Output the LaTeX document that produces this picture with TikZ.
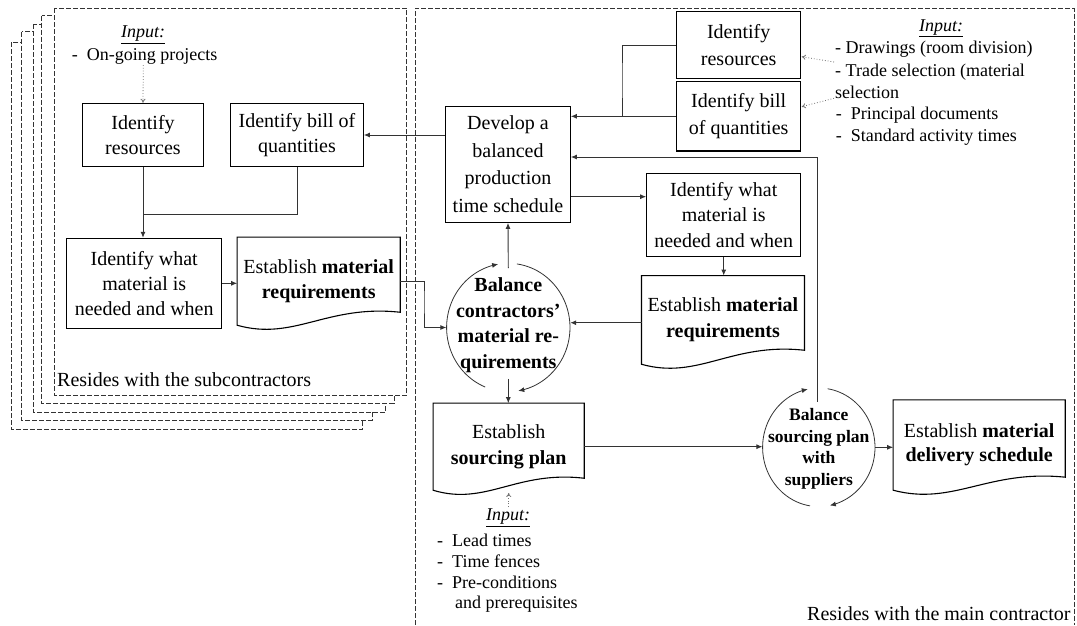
\documentclass[tikz,border=0pt]{standalone}
\usepackage{fontspec}
\setmainfont{Liberation Serif}
\usetikzlibrary{arrows.meta,calc,shapes.geometric}
\newcommand{\myMain}{\fontsize{20}{25}\selectfont}
\newcommand{\mySmall}{\fontsize{18}{22}\selectfont}
\newcommand{\myBal}{\fontsize{17.5}{21.5}\selectfont\bfseries}
\newcommand{\myInp}{\underline{\textit{Input:}}}
\newcommand{\docshape}[2]{\draw[boxline] (#1.south west) -- (#1.north west) -- (#1.north east) -- ($(#1.south east)+(0,-#2)$) .. controls ($(#1.south west)!0.55!(#1.south east)+(0,-#2-8)$) and ($(#1.south west)!0.35!(#1.south east)+(0,16)$) .. (#1.south west) -- cycle;}
\begin{document}
\begin{tikzpicture}[x=1pt,y=-1pt,
  boxline/.style={line width=1.1pt, black},
  box/.style={draw, line width=1.1pt, rectangle, inner sep=0pt, align=center, font=\myMain},
  docnode/.style={rectangle, inner sep=0pt, align=center, font=\myMain},
  ball/.style={ellipse, inner sep=0pt, draw=none},
  baltext/.style={inner sep=0pt, align=center},
  frame/.style={line width=0.8pt, black!80, dash pattern=on 5pt off 2pt},
  arr/.style={line width=0.9pt, black!80, -{Latex[length=6pt,width=5pt]}},
  plain/.style={line width=0.9pt, black!80},
  cyc/.style={line width=0.8pt, black!80, -{Latex[length=6pt,width=5pt]}},
  inarr/.style={dotted, line width=0.8pt, black!55, -{To[length=4pt,width=5pt]}},
  inp/.style={inner sep=0pt, anchor=west, font=\mySmall},
  lbl/.style={inner sep=0pt, anchor=west, font=\myMain}]
\useasboundingbox (0,0) rectangle (1077,625);
\fill[white] (0,0) rectangle (1077,625);

% stacked subcontractor frames
\draw[frame, fill=white] (11,42.3) rectangle (362.7,429.3);
\draw[frame, fill=white] (21.7,31.7) rectangle (372.7,420);
\draw[frame, fill=white] (33.3,24.3) rectangle (385.7,412.3);
\draw[frame, fill=white] (41.7,15.7) rectangle (394,403.3);
\draw[frame, fill=white] (54.3,8.3) rectangle (406.7,395.5);
% main contractor frame
\draw[frame] (415,625) -- (415,8.3) -- (1074,8.3) -- (1074,625);

\node[lbl] (subl) at (57,380) {Resides with the subcontractors};
\node[lbl] (mainl) at (807,614) {Resides with the main contractor};

% ---- subcontractor side
\node[inner sep=0pt, font=\mySmall] (sinp) at (143,35) {\myInp};
\node[inp] (sinp1) at (71.7,56.7) {-\ \ On-going projects};
\node[box, minimum width=120.6, minimum height=63.4] (sres) at (143,135) {Identify\\resources};
\node[box, minimum width=132.6, minimum height=63.4] (sbill) at (297,135) {Identify bill of\\quantities};
\node[box, minimum width=155, minimum height=90] (swhat) at (144.2,283.3) {Identify what\\material is\\needed and when};
\node[docnode, minimum width=162.7, minimum height=87.7] (sdoc) at (318.7,281.2) {Establish \textbf{material}\\\textbf{requirements}};
\docshape{sdoc}{13}

% ---- main contractor side
\node[box, minimum width=124.6, minimum height=116.3, font={\fontsize{20}{27.5}\selectfont}] (dev) at (508,164.2) {Develop a\\balanced\\production\\time schedule};
\node[box, minimum width=124, minimum height=66.6, font={\fontsize{20}{26.5}\selectfont}] (mres) at (738.7,45) {Identify\\resources};
\node[box, minimum width=124, minimum height=69.3, font={\fontsize{20}{26.5}\selectfont}] (mbill) at (738.7,116.3) {Identify bill\\of quantities};
\node[box, minimum width=154, minimum height=83.4, font={\fontsize{20}{25.8}\selectfont}] (mwhat) at (723.7,215) {Identify what\\material is\\needed and when};
\node[docnode, minimum width=162.6, minimum height=88.3, font={\fontsize{20}{26}\selectfont}] (mdoc) at (723,319.9) {Establish \textbf{material}\\\textbf{requirements}};
\docshape{mdoc}{14}
\node[docnode, minimum width=150.7, minimum height=86.7, font={\fontsize{20}{26}\selectfont}] (srcdoc) at (508.7,446.7) {Establish\\\textbf{sourcing plan}};
\docshape{srcdoc}{12}
\node[docnode, minimum width=171.7, minimum height=90, font={\fontsize{20}{24}\selectfont}] (deldoc) at (979.2,445) {Establish \textbf{material}\\\textbf{delivery schedule}};
\docshape{deldoc}{13}

\node[ball, minimum width=123.4, minimum height=128.4] (bal1) at (508.3,327.5) {};
\node[baltext, font={\fontsize{20}{25.5}\selectfont\bfseries}] (bal1t) at (508.3,325) {Balance\\contractors’\\material re-\\quirements};
\node[ball, minimum width=112.4, minimum height=118.6] (bal2) at (818.8,447.3) {};
\node[baltext, font=\myBal] (bal2t) at (818.8,448.8) {Balance\\sourcing plan\\with\\suppliers};

% cycle arcs
\draw[cyc] plot[domain=112:260.5, samples=50] ({508.3+61.7*cos(\x)},{327.5+64.2*sin(\x)});
\draw[cyc] plot[domain=278:440.7, samples=50] ({508.3+61.7*cos(\x)},{327.5+64.2*sin(\x)});
\draw[cyc] plot[domain=99:258.7, samples=50] ({818.8+56.2*cos(\x)},{447.3+59.3*sin(\x)});
\draw[cyc] plot[domain=279:438.7, samples=50] ({818.8+56.2*cos(\x)},{447.3+59.3*sin(\x)});

% inputs
\node[inner sep=0pt, font=\mySmall] (rinp) at (941,28.3) {\myInp};
\node[inp] (rinp1) at (835,49.3) {- Drawings (room division)};
\node[inp] (rinp2) at (835,71.7) {- Trade selection (material};
\node[inp] (rinp3) at (835,92.5) {selection};
\node[inp] (rinp4) at (835.7,115) {-\ \ Principal documents};
\node[inp] (rinp5) at (835.7,136.7) {-\ \ Standard activity times};

\node[inner sep=0pt, font=\mySmall] (binp) at (508,518) {\myInp};
\node[inp] (binp1) at (437,540) {-\ \ Lead times};
\node[inp] (binp2) at (437,561) {-\ \ Time fences};
\node[inp] (binp3) at (437,582) {-\ \ Pre-conditions};
\node[inp] (binp4) at (455,604) {and prerequisites};

\coordinate (i1) at (143.3,65);
\coordinate (i2a) at (834,62);
\coordinate (i2b) at (834,98.3);
\coordinate (i3a) at (508.7,507);
\coordinate (i3b) at (508.7,493);
\draw[inarr] (i1) -- (sres.north);
\draw[inarr] (i2a) -- (801.7,56.7);
\draw[inarr] (i2b) -- (801.7,106.7);
\draw[inarr] (i3a) -- (i3b);

% connectors subcontractor side
\draw[arr] (sres.south) -- (sres.south |- swhat.north);
\draw[plain] (sbill.south) |- (sres.south |- 0,214.3);
\draw[arr] (swhat.east) -- (swhat.east -| sdoc.west);
\draw[arr] (dev.west |- sbill.east) -- (sbill.east);
\coordinate (k1) at (424,300);
\draw[arr] (sdoc.east) -| (k1) |- (bal1.west);

% connectors main side
\draw[arr] (mbill.west) -- (mbill.west -| dev.east);
\coordinate (k2) at (622,80);
\draw[plain] (mres.west) -| (k2) |- (mbill.west);
\coordinate (k3) at (817,401.7);
\coordinate (k4) at (817,157);
\draw[arr] (k3) -- (k4) -- (k4 -| dev.east);
\draw[arr] (dev.east |- 0,196.7) -- (mwhat.west |- 0,196.7);
\draw[arr] (mwhat.south) -- (mwhat.south |- mdoc.north);
\draw[arr] (mdoc.west |- 0,322.7) -- (570.2,322.7);
\draw[arr] ($(bal1.north)+(0,5)$) -- (dev.south);
\draw[arr] ($(bal1.south)+(0,-13)$) -- (bal1.south |- srcdoc.north);
\draw[arr] (srcdoc.east) -- (srcdoc.east -| bal2.west);
\draw[arr] (bal2.east) -- (bal2.east -| deldoc.west);
\end{tikzpicture}
\end{document}
